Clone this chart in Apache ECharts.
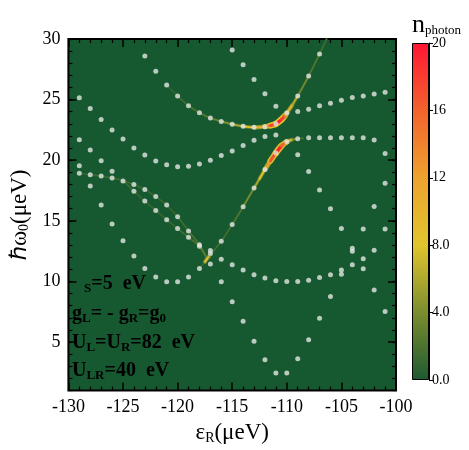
<!DOCTYPE html>
<html>
<head>
<meta charset="utf-8">
<script src="https://cdn.jsdelivr.net/npm/echarts@6/dist/echarts.min.js"></script>
<style>
  html, body { margin: 0; padding: 0; background: #fff; }
  #main { width: 469px; height: 450px; }
</style>
</head>
<body>
<div id="main"></div>
<script>
// 数据：白点 = 数值谱线，彩色曲线 = 光子数 n 沿共振线
var spectrumDots = [
  // upper part
  [-123, 28.6], [-122, 27.35], [-121, 26.2], [-120, 25.3], [-119, 24.5], [-118, 23.92], [-117, 23.48],
  [-116, 23.2], [-115, 22.97], [-114, 22.8], [-113, 22.72], [-112, 22.77], [-111, 23.0], [-110, 23.9],
  [-109, 25.3], [-108, 26.95], [-107, 28.77],
  [-115, 29.1], [-114, 27.87], [-113, 26.66], [-112, 25.48], [-111, 24.46],
  [-109, 24.03], [-108, 24.2], [-107, 24.49], [-106, 24.7], [-105, 24.95], [-104, 25.17], [-103, 25.3],
  [-102, 25.47], [-101, 25.6],
  // U-shaped band near 20
  [-129, 25.15], [-128, 24.27], [-127, 23.37], [-126, 22.5], [-125, 21.75], [-124, 21.0], [-123, 20.44],
  [-122, 19.93], [-121, 19.63], [-120, 19.46], [-119, 19.5], [-118, 19.68], [-117, 20.0], [-116, 20.4],
  [-115, 20.77], [-114, 21.22], [-113, 21.64], [-112, 21.96], [-111, 22.08],
  [-110, 21.52], [-109, 21.77], [-108, 21.85], [-107, 21.85], [-106, 21.85], [-105, 21.85], [-104, 21.85],
  [-103, 21.85], [-102, 21.67],
  // left branches
  [-129, 21.7], [-128, 20.85], [-127, 19.95], [-126, 19.1], [-125, 18.29], [-124, 17.44], [-123, 16.63],
  [-122, 15.86], [-121, 15.1], [-120, 14.36], [-119, 13.64], [-118, 12.9],
  [-129, 18.92], [-128, 18.8], [-127, 18.7], [-126, 18.53], [-124, 18.0], [-123, 17.58], [-122, 17.0],
  [-121, 16.3], [-120, 15.34], [-119, 14.17], [-118, 13.02], [-117, 12.55], [-117, 12.3],
  [-129, 19.54], [-128, 17.87], [-127, 16.3], [-126, 14.74], [-125, 13.35], [-124, 12.1], [-123, 11.08],
  [-122, 10.36], [-121, 9.97], [-120, 9.97], [-119, 10.36], [-118, 11.07], [-117, 11.44], [-116, 13.32],
  [-115, 14.7], [-114, 16.17], [-113, 17.71], [-112, 19.23], [-111, 20.6],
  // middle / right
  [-116, 11.84], [-115, 11.38], [-114, 10.94], [-113, 10.56], [-112, 10.29], [-111, 10.07], [-110, 9.99],
  [-109, 9.99], [-108, 10.1], [-107, 10.32], [-106, 10.56], [-105, 10.6], [-105, 10.94], [-104, 11.38],
  [-103, 11.05], [-103, 11.87], [-104, 12.5], [-104, 12.75], [-102, 12.58],
  [-105, 14.36], [-103, 14.33], [-101, 14.33],
  [-109, 20.46], [-108, 19.07], [-107, 17.55], [-106, 16.0],
  [-101, 20.55], [-101, 18.1], [-102, 16.18],
  // lower V
  [-116, 9.98], [-115, 8.32], [-114, 6.71], [-113, 5.07], [-112, 3.55], [-111, 2.46], [-110, 2.46],
  [-109, 3.63], [-108, 5.2], [-107, 6.96], [-106, 8.77], [-102, 9.3], [-101, 7.53]
];

// [x, y, n_photon]
var upperBranch = [
  [-121, 26.2, 1], [-120, 25.3, 1.5], [-119, 24.5, 2], [-118, 23.92, 2.5], [-117, 23.48, 3], [-116, 23.2, 4],
  [-115, 22.97, 5], [-114, 22.8, 7], [-113, 22.72, 9], [-112, 22.77, 12], [-111.5, 22.86, 16], [-111, 23.0, 19],
  [-110.5, 23.35, 20], [-110.2, 23.65, 16], [-110, 23.9, 12], [-109.5, 24.55, 8], [-109, 25.3, 5],
  [-108, 26.95, 3], [-107, 28.77, 2], [-106.35, 30, 1.5]
];
var lowerBranch = [
  [-118, 11.07, 1], [-117.5, 11.62, 2], [-117.3, 11.88, 16], [-117.1, 12.1, 2], [-116, 13.32, 2],
  [-115, 14.7, 2], [-114, 16.17, 3], [-113, 17.71, 5], [-112.5, 18.47, 7], [-112, 19.23, 10],
  [-111.5, 19.95, 15], [-111, 20.6, 19], [-110.5, 21.17, 20], [-110, 21.52, 12], [-109.5, 21.7, 6],
  [-109, 21.78, 3], [-108.5, 21.82, 1]
];
var leftBranchA = [
  [-129, 18.92, 1], [-128, 18.8, 1.5], [-127, 18.7, 1.5], [-126, 18.53, 1.5], [-125, 18.29, 2],
  [-124, 17.44, 1.5], [-123, 16.63, 1.5], [-122, 15.86, 1.5], [-121, 15.1, 1.5], [-120, 14.36, 1.5],
  [-119, 13.64, 2], [-118, 12.9, 2.5], [-117.3, 11.88, 3]
];
var leftBranchB = [
  [-125, 18.29, 2], [-124, 18.0, 1.5], [-123, 17.58, 1.5], [-122, 17.0, 1.5], [-121, 16.3, 1.5],
  [-120, 15.34, 1.5], [-119, 14.17, 2], [-118, 13.02, 2.5], [-117.3, 11.88, 3]
];

var yMajorTicks = [5, 10, 15, 20, 25, 30];
var barTicks = [0, 4, 8, 12, 16, 20];
var nMax = 20;
var nStops = ['#1d5a31', '#7b8d2f', '#e0c52d', '#eea22f', '#f2632d', '#ff1634'];

var FONT = "'Liberation Serif', 'Times New Roman', serif";
var BG = '#16582f';

function nColor(n) {
  return echarts.color.lerp(Math.max(0, Math.min(1, n / nMax)), nStops);
}

// 曲线分段绘制，每段颜色由 n 决定
function curveSeries(pts, layer) {
  return {
    type: 'custom',
    coordinateSystem: 'cartesian2d',
    xAxisIndex: 0,
    yAxisIndex: 0,
    silent: true,
    z: layer === 'glow' ? 2 : 3,
    data: pts,
    renderItem: function (params, api) {
      var i = params.dataIndex;
      if (i >= pts.length - 1) return;
      var c = function (k) {
        k = Math.max(0, Math.min(pts.length - 1, k));
        return api.coord([pts[k][0], pts[k][1]]);
      };
      var p0 = c(i - 1), p1 = c(i), p2 = c(i + 1), p3 = c(i + 2);
      var shape = {
        x1: p1[0], y1: p1[1], x2: p2[0], y2: p2[1],
        cpx1: p1[0] + (p2[0] - p0[0]) / 6, cpy1: p1[1] + (p2[1] - p0[1]) / 6,
        cpx2: p2[0] - (p3[0] - p1[0]) / 6, cpy2: p2[1] - (p3[1] - p1[1]) / 6
      };
      var n = (pts[i][2] + pts[i + 1][2]) / 2;
      var style = layer === 'glow'
        ? { fill: null, stroke: nColor(n * 0.45), lineWidth: 1.5 + n * 0.26, lineCap: 'round' }
        : { fill: null, stroke: nColor(n), lineWidth: 0.8 + n * 0.12, lineCap: 'round' };
      return { type: 'bezierCurve', shape: shape, style: style };
    }
  };
}

var chartDom = document.getElementById('main');
var myChart = echarts.init(chartDom);

var tickLine = { color: '#000', width: 1.5 };
var labelStyle = { fontFamily: FONT, fontSize: 18, color: '#000' };
var subText = function (size, pad) {
  return { fontFamily: FONT, fontSize: size, color: '#000', padding: [pad, 0, 0, 0] };
};

function frameX(pos, withLabels) {
  return {
    gridIndex: 0, type: 'value', position: pos, min: -130, max: -100, interval: 5,
    axisLine: { show: false },
    axisTick: { inside: true, length: 8, lineStyle: tickLine },
    minorTick: { show: true, splitNumber: 5, length: 4, lineStyle: { color: '#000', width: 1.2 } },
    splitLine: { show: false },
    axisLabel: withLabels ? Object.assign({ margin: 8 }, labelStyle) : { show: false }
  };
}
function frameY(pos, major, withLabels) {
  var ax = {
    gridIndex: 0, type: 'value', position: pos, min: 1, max: 30,
    axisLine: { show: false },
    splitLine: { show: false },
    axisLabel: { show: false }
  };
  if (major) {
    ax.axisTick = { inside: true, length: 8, customValues: yMajorTicks, lineStyle: tickLine };
    if (withLabels) ax.axisLabel = Object.assign({ margin: 8, customValues: yMajorTicks }, labelStyle);
  } else {
    ax.interval = 1;
    ax.axisTick = { inside: true, length: 4, lineStyle: { color: '#000', width: 1.2 } };
  }
  return ax;
}

var xMain = frameX('bottom', true);
xMain.name = '{a|ε}{s|R}{a|(μeV)}';
xMain.nameLocation = 'middle';
xMain.nameGap = 25;
xMain.nameTextStyle = {
  rich: { a: { fontFamily: FONT, fontSize: 23, color: '#000' }, s: subText(14, 10) }
};

var yMain = frameY('left', true, true);
yMain.name = '{a|ℏω}{s|0}{a|(μeV)}';
yMain.nameLocation = 'middle';
yMain.nameGap = 32;
yMain.nameTextStyle = {
  rich: { a: { fontFamily: FONT, fontSize: 23, color: '#000' }, s: subText(14, 10) }
};

var white = { fontFamily: FONT, fontSize: 20, fontWeight: 'bold', color: '#f2f2f2' };
var whiteSub = { fontFamily: FONT, fontSize: 13, fontWeight: 'bold', color: '#f2f2f2', padding: [10, 0, 0, 0] };
var annotRich = { t: white, s: whiteSub };

var option = {
  animation: false,
  backgroundColor: '#fff',
  grid: [
    { left: 65, top: 39, width: 331, height: 354, show: true, backgroundColor: BG, borderColor: '#000', borderWidth: 2 },
    { left: 412, top: 43, width: 17, height: 337, show: false }
  ],
  xAxis: [
    xMain,
    frameX('top', false),
    { gridIndex: 1, type: 'category', data: ['n'], show: false }
  ],
  yAxis: [
    yMain,
    frameY('left', false),
    frameY('right', true, false),
    frameY('right', false),
    {
      gridIndex: 1, type: 'value', position: 'right', min: 0, max: nMax, interval: 4,
      axisLine: { show: true, lineStyle: { color: '#000', width: 1 } },
      axisTick: { show: true, length: 4, lineStyle: { color: '#000', width: 1 } },
      splitLine: { show: false },
      axisLabel: {
        margin: 3, fontFamily: FONT, fontSize: 14, color: '#000',
        customValues: barTicks,
        formatter: function (v) { return v >= 10 ? String(v) : v.toFixed(1); }
      }
    }
  ],
  graphic: [
    {
      type: 'text', left: 412, top: 12,
      style: {
        text: '{n|n}{s|photon}',
        rich: {
          n: { fontFamily: FONT, fontSize: 26, color: '#000' },
          s: { fontFamily: FONT, fontSize: 13, color: '#000', padding: [12, 0, 0, 0] }
        }
      }
    },
    { type: 'text', left: 84, top: 274, style: { text: '{s|S}{t|=5  eV}', rich: annotRich } },
    { type: 'text', left: 72, top: 304, style: { text: '{t|g}{s|L}{t|= - g}{s|R}{t|=g}{s|0}', rich: annotRich } },
    { type: 'text', left: 72, top: 333, style: { text: '{t|U}{s|L}{t|=U}{s|R}{t|=82  eV}', rich: annotRich } },
    { type: 'text', left: 72, top: 361, style: { text: '{t|U}{s|LR}{t|=40  eV}', rich: annotRich } }
  ],
  series: [
    curveSeries(leftBranchA, 'glow'),
    curveSeries(leftBranchB, 'glow'),
    curveSeries(lowerBranch, 'glow'),
    curveSeries(upperBranch, 'glow'),
    curveSeries(leftBranchA, 'core'),
    curveSeries(leftBranchB, 'core'),
    curveSeries(lowerBranch, 'core'),
    curveSeries(upperBranch, 'core'),
    {
      type: 'scatter',
      xAxisIndex: 0, yAxisIndex: 0,
      data: spectrumDots,
      symbolSize: 5,
      z: 5,
      silent: true,
      itemStyle: { color: '#e4e7e4' }
    },
    {
      type: 'bar',
      xAxisIndex: 2, yAxisIndex: 4,
      data: [nMax],
      barWidth: '100%',
      silent: true,
      itemStyle: {
        color: new echarts.graphic.LinearGradient(0, 1, 0, 0, nStops.map(function (c, i) {
          return { offset: i / (nStops.length - 1), color: c };
        })),
        borderColor: '#000',
        borderWidth: 1
      }
    }
  ]
};

myChart.setOption(option);
window.addEventListener('resize', function () {
  myChart.resize();
});
</script>
</body>
</html>
